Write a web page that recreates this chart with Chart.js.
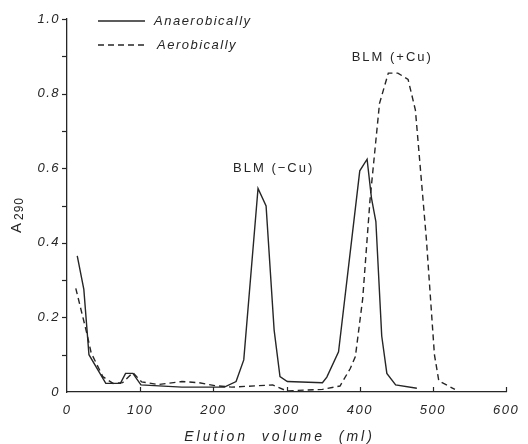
<!DOCTYPE html>
<html><head><meta charset="utf-8">
<script src="https://cdn.jsdelivr.net/npm/chart.js@4.4.1/dist/chart.umd.min.js"></script>
<style>html,body{margin:0;padding:0;background:#fff;}#wrap{width:528px;height:444px;}</style>
</head><body><div id="wrap"><canvas id="c" width="528" height="444"></canvas></div>
<script>
// Data
const anaerobicX = [14, 23, 30, 53, 73, 80, 90, 101, 157, 215, 231, 241.5, 261, 272, 283, 291, 301, 349, 355, 371, 400, 410, 416, 422, 430, 437, 449, 478];
const anaerobicY = [0.365, 0.275, 0.10, 0.023, 0.023, 0.05, 0.05, 0.019, 0.013, 0.013, 0.028, 0.086, 0.546, 0.499, 0.166, 0.041, 0.028, 0.025, 0.04, 0.108, 0.593, 0.624, 0.52, 0.457, 0.15, 0.05, 0.019, 0.01];
const aerobicX = [12, 27, 33, 49, 63, 76, 90, 102, 125, 157, 180, 202, 225, 281, 300, 349, 373, 387, 394, 404, 414, 427, 439, 452, 466, 476, 491, 502, 508, 530];
const aerobicY = [0.278, 0.158, 0.105, 0.041, 0.023, 0.025, 0.052, 0.027, 0.02, 0.028, 0.025, 0.017, 0.013, 0.019, 0.003, 0.007, 0.016, 0.063, 0.095, 0.25, 0.515, 0.774, 0.855, 0.855, 0.838, 0.756, 0.41, 0.10, 0.03, 0.007];
const seriesLabels = ['Anaerobically', 'Aerobically'];
const xTicks = [0, 100, 200, 300, 400, 500, 600];
const yTicks = [0, 0.2, 0.4, 0.6, 0.8, 1.0];
const yMinorTicks = [0.1, 0.2, 0.3, 0.4, 0.5, 0.6, 0.7, 0.8, 0.9, 1.0];
const peakLabels = ['BLM (\u2212Cu)', 'BLM (+Cu)'];
const peakLabelX = [281, 443];
const peakLabelY = [0.60, 0.898];
const xTitle = 'Elution  volume  (ml)';

const INK = '#262626';
const FONT = "'Liberation Sans', 'DejaVu Sans', sans-serif";

function toPts(xs, ys) { return xs.map((x, i) => ({ x: x, y: ys[i] })); }

const decor = {
  id: 'decor',
  beforeDraw(chart) {
    chart.ctx.letterSpacing = '1.5px';
  },
  afterDraw(chart) {
    const ctx = chart.ctx;
    const xs = chart.scales.x, ys = chart.scales.y;
    const ca = chart.chartArea;
    ctx.save();
    ctx.strokeStyle = INK;
    ctx.lineWidth = 1.2;
    // x tick marks (pointing up)
    xTicks.forEach(v => {
      if (v === 0) return;
      const px = Math.round(xs.getPixelForValue(v)) + 0.5;
      ctx.beginPath(); ctx.moveTo(px, ca.bottom); ctx.lineTo(px, ca.bottom - 5); ctx.stroke();
    });
    // y tick marks (pointing left)
    yMinorTicks.forEach(v => {
      const py = Math.round(ys.getPixelForValue(v)) + 0.5;
      ctx.beginPath(); ctx.moveTo(ca.left - 5, py); ctx.lineTo(ca.left, py); ctx.stroke();
    });
    // legend
    ctx.fillStyle = INK;
    ctx.textBaseline = 'middle';
    ctx.textAlign = 'left';
    ctx.font = 'italic 13px ' + FONT;
    ctx.letterSpacing = '1.5px';
    const lx0 = ca.left + 31, lx1 = ca.left + 78;
    const ly = [ca.top + 2, ca.top + 26];
    chart.data.datasets.forEach((ds, i) => {
      ctx.setLineDash(ds.borderDash || []);
      ctx.lineWidth = 1.3;
      ctx.beginPath(); ctx.moveTo(lx0, ly[i]); ctx.lineTo(lx1, ly[i]); ctx.stroke();
      ctx.setLineDash([]);
      ctx.fillText(ds.label, i === 0 ? ca.left + 87 : ca.left + 90, ly[i]);
    });
    // peak labels
    ctx.textAlign = 'center';
    ctx.font = '13px ' + FONT;
    ctx.letterSpacing = '2px';
    peakLabels.forEach((t, i) => {
      ctx.fillText(t, xs.getPixelForValue(peakLabelX[i]) + 1, ys.getPixelForValue(peakLabelY[i]));
    });
    // x title
    ctx.font = 'italic 14px ' + FONT;
    ctx.letterSpacing = '3px';
    ctx.fillText(xTitle, (ca.left + ca.right) / 2 - 7, ca.bottom + 45);
    // y title A290
    ctx.save();
    ctx.translate(17, 215);
    ctx.rotate(-Math.PI / 2);
    ctx.letterSpacing = '1px';
    ctx.font = '15px ' + FONT;
    const wA = ctx.measureText('A').width;
    ctx.font = '12px ' + FONT;
    const wS = ctx.measureText('290').width;
    const start = -(wA + wS + 2) / 2;
    ctx.textAlign = 'left';
    ctx.font = '15px ' + FONT;
    ctx.fillText('A', start, 0);
    ctx.font = '12px ' + FONT;
    ctx.fillText('290', start + wA + 2, 3);
    ctx.restore();
    ctx.restore();
  }
};

new Chart(document.getElementById('c'), {
  type: 'scatter',
  data: {
    datasets: [
      { label: seriesLabels[0], data: toPts(anaerobicX, anaerobicY), showLine: true, borderColor: INK, borderWidth: 1.4, pointRadius: 0, tension: 0, fill: false },
      { label: seriesLabels[1], data: toPts(aerobicX, aerobicY), showLine: true, borderColor: INK, borderWidth: 1.4, borderDash: [6, 4], pointRadius: 0, tension: 0, fill: false }
    ]
  },
  options: {
    responsive: false,
    animation: false,
    devicePixelRatio: 1,
    layout: { padding: { top: 19, right: 17, left: 0, bottom: 0 } },
    plugins: { legend: { display: false }, tooltip: { enabled: false } },
    scales: {
      x: {
        type: 'linear', min: 0, max: 600,
        afterBuildTicks: s => { s.ticks = xTicks.map(v => ({ value: v })); },
        ticks: { color: INK, font: { family: FONT, size: 13, style: 'italic' }, padding: 11, maxRotation: 0, callback: v => String(v) },
        grid: { display: false, drawTicks: false },
        border: { display: true, color: INK, width: 1.3 },
        afterFit: s => { s.height = 52; }
      },
      y: {
        type: 'linear', min: 0, max: 1.0,
        afterBuildTicks: s => { s.ticks = yTicks.map(v => ({ value: v })); },
        ticks: { color: INK, font: { family: FONT, size: 13, style: 'italic' }, padding: 7, callback: v => v === 0 ? '0' : v.toFixed(1) },
        grid: { display: false, drawTicks: false },
        border: { display: true, color: INK, width: 1.3 },
        afterFit: s => { s.width = 67; }
      }
    }
  },
  plugins: [decor]
});
</script>
</body></html>
